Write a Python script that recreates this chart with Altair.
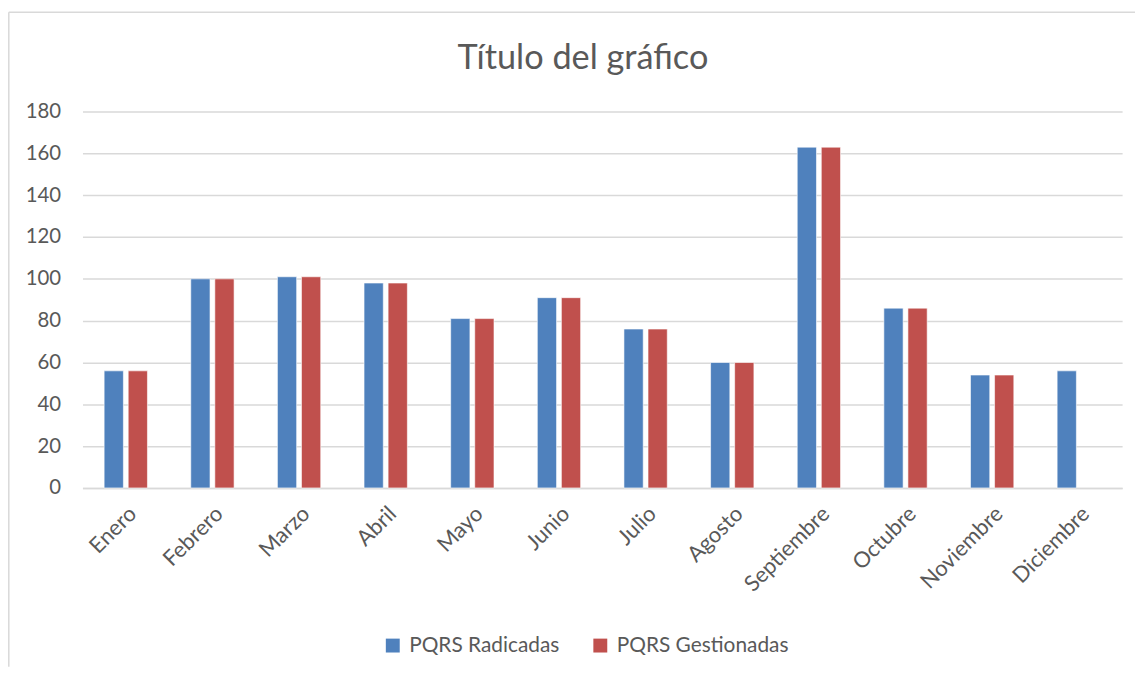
import altair as alt
import pandas as pd

months = ["Enero", "Febrero", "Marzo", "Abril", "Mayo", "Junio", "Julio",
          "Agosto", "Septiembre", "Octubre", "Noviembre", "Diciembre"]
radicadas = [56, 100, 101, 98, 81, 91, 76, 60, 163, 86, 54, 56]
gestionadas = [56, 100, 101, 98, 81, 91, 76, 60, 163, 86, 54, None]
series_names = ["PQRS Radicadas", "PQRS Gestionadas"]
series_colors = ["#4F81BD", "#C0504D"]
y_ticks = [0, 20, 40, 60, 80, 100, 120, 140, 160, 180]
title_text = "Título del gráfico"

rows = []
for m, r, g in zip(months, radicadas, gestionadas):
    if r is not None:
        rows.append({"Mes": m, "Serie": series_names[0], "Valor": r})
    if g is not None:
        rows.append({"Mes": m, "Serie": series_names[1], "Valor": g})
df = pd.DataFrame(rows)

FONT = "Lato"
GREY = "#595959"
BORDER = "#D9D9D9"

bars = alt.Chart(df).mark_bar(stroke="white", strokeWidth=1, strokeOpacity=0.6).encode(
    x=alt.X("Mes:N", sort=months, title=None,
            scale=alt.Scale(paddingInner=0.5, paddingOuter=0.25),
            axis=alt.Axis(labelAngle=-45, labelFontSize=22, labelColor=GREY, labelFont=FONT,
                          ticks=False, domain=True, domainColor=BORDER, domainWidth=1.5,
                          labelPadding=15, grid=False)),
    xOffset=alt.XOffset("Serie:N", sort=series_names,
                        scale=alt.Scale(paddingInner=0.2, paddingOuter=0)),
    y=alt.Y("Valor:Q", title=None,
            scale=alt.Scale(domain=[0, 180], nice=False),
            axis=alt.Axis(values=y_ticks, labelFontSize=20.5, labelColor=GREY, labelFont=FONT,
                          ticks=False, domain=False, grid=True, gridColor=BORDER,
                          gridWidth=1.5, labelPadding=22)),
    color=alt.Color("Serie:N", sort=series_names,
                    scale=alt.Scale(domain=series_names, range=series_colors),
                    legend=alt.Legend(title=None, orient="none", direction="horizontal",
                                      legendX=302, legendY=527, symbolType="square",
                                      symbolSize=196, symbolStrokeWidth=0,
                                      labelFontSize=21, labelColor=GREY, labelFont=FONT,
                                      labelLimit=400, labelOffset=6, columnPadding=30)),
)

one = pd.DataFrame({"t": [title_text]})
left_line = alt.Chart(one).mark_rule(color=BORDER, strokeWidth=1.5, clip=False).encode(
    x=alt.value(-74.2), y=alt.value(-100), y2=alt.value(559)
)
top_line = alt.Chart(one).mark_rule(color=BORDER, strokeWidth=1.5, clip=False).encode(
    x=alt.value(-74.2), x2=alt.value(1060), y=alt.value(-100)
)
title = alt.Chart(one).mark_text(font=FONT, fontSize=34.5, color=GREY, align="center",
                                 baseline="alphabetic").encode(
    text="t:N", x=alt.value(504), y=alt.value(-43)
)

chart = alt.layer(left_line, top_line, title, bars).properties(
    width=1047, height=379,
    autosize=alt.AutoSizeParams(type="none"),
    padding={"left": 75, "top": 102, "right": 16, "bottom": 178},
).configure_view(stroke=None)

chart.save("out.html", embed_options={"renderer": "svg", "actions": False})
